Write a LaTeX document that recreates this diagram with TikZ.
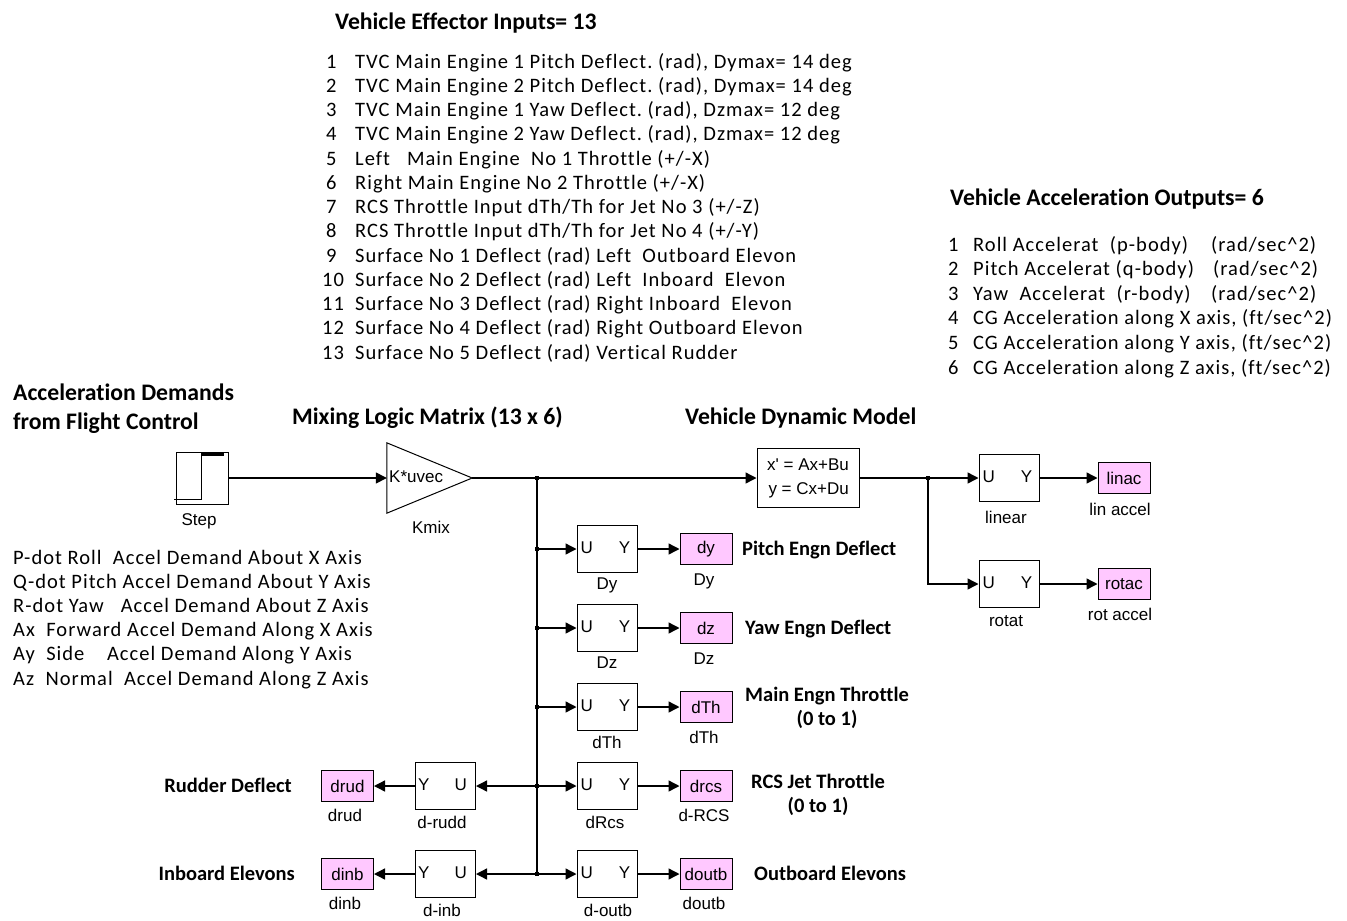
\documentclass[tikz,border=0pt]{standalone}
\usepackage{fontspec}
\setmainfont{Carlito}[Ligatures={TeX,NoCommon}]
\newfontfamily\lstfont{Carlito}[LetterSpace=5,Ligatures={TeX,NoCommon}]
\newfontfamily\arialfam{Liberation Sans}
\usetikzlibrary{arrows.meta,calc}
\definecolor{pinkc}{RGB}{255,200,255}
\frenchspacing
\begin{document}
\begin{tikzpicture}[x=1pt,y=-1pt,
 hdg/.style={font=\bfseries\fontsize{23.7}{28}\selectfont, anchor=base west, inner sep=0},
 lst/.style={font=\lstfont\fontsize{20.5}{24}\selectfont, anchor=base west, inner sep=0},
 btxt/.style={font=\bfseries\fontsize{20.5}{24.5}\selectfont, inner sep=0},
 lbl/.style={font=\arialfam\fontsize{17}{20}\selectfont, inner sep=0, anchor=base},
 blk/.style={draw, line width=1pt, minimum width=60pt, minimum height=47pt, inner sep=0},
 pbox/.style={draw, line width=1pt, fill=pinkc, minimum width=52pt, minimum height=31pt, inner sep=0, font=\arialfam\fontsize{17}{20}\selectfont},
 wire/.style={line width=1.4pt, -{Triangle[length=11pt,width=11pt]}},
 wline/.style={line width=1.4pt},
 jdot/.style={fill=black},
]
\useasboundingbox (0,0) rectangle (1347,921);

% ---------- headings ----------
\node[hdg] (tin) at (335,29) {Vehicle Effector Inputs= 13};
\node[hdg] (tout) at (950,205) {Vehicle Acceleration Outputs= 6};
\node[hdg] (tacc1) at (13,400) {Acceleration Demands};
\node[hdg] (tacc2) at (13,429) {from Flight Control};
\node[hdg] (tmix) at (292,424) {Mixing Logic Matrix (13 x 6)};
\node[hdg] (tveh) at (685,424) {Vehicle Dynamic Model};

% ---------- effector input list ----------
\node[lst] (n1) at (326,68) {1};
\node[lst] (e1) at (355,68) {TVC Main Engine 1 Pitch Deflect. (rad), Dymax= 14 deg};
\node[lst] (n2) at (326,92.25) {2};
\node[lst] (e2) at (355,92.25) {TVC Main Engine 2 Pitch Deflect. (rad), Dymax= 14 deg};
\node[lst] (n3) at (326,116.5) {3};
\node[lst] (e3) at (355,116.5) {TVC Main Engine 1 Yaw Deflect. (rad), Dzmax= 12 deg};
\node[lst] (n4) at (326,140.75) {4};
\node[lst] (e4) at (355,140.75) {TVC Main Engine 2 Yaw Deflect. (rad), Dzmax= 12 deg};
\node[lst] (n5) at (326,165) {5};
\node[lst] (e5) at (355,165) {Left\ \ \ Main Engine\ \ No 1 Throttle (+/-X)};
\node[lst] (n6) at (326,189.25) {6};
\node[lst] (e6) at (355,189.25) {Right Main Engine No 2 Throttle (+/-X)};
\node[lst] (n7) at (326,213.5) {7};
\node[lst] (e7) at (355,213.5) {RCS Throttle Input dTh/Th for Jet No 3 (+/-Z)};
\node[lst] (n8) at (326,237.75) {8};
\node[lst] (e8) at (355,237.75) {RCS Throttle Input dTh/Th for Jet No 4 (+/-Y)};
\node[lst] (n9) at (326,262) {9};
\node[lst] (e9) at (355,262) {Surface No 1 Deflect (rad) Left\ \ Outboard Elevon};
\node[lst] (n10) at (322,286.25) {10};
\node[lst] (e10) at (355,286.25) {Surface No 2 Deflect (rad) Left\ \ Inboard\ \ Elevon};
\node[lst] (n11) at (322,310.5) {11};
\node[lst] (e11) at (355,310.5) {Surface No 3 Deflect (rad) Right Inboard\ \ Elevon};
\node[lst] (n12) at (322,334.75) {12};
\node[lst] (e12) at (355,334.75) {Surface No 4 Deflect (rad) Right Outboard Elevon};
\node[lst] (n13) at (322,359) {13};
\node[lst] (e13) at (355,359) {Surface No 5 Deflect (rad) Vertical Rudder};

% ---------- acceleration output list ----------
\node[lst] (m1) at (948,251) {1};
\node[lst] (o1) at (973,251) {\makebox[238pt][l]{Roll Accelerat\ \ (p-body)}(rad/sec\textasciicircum 2)};
\node[lst] (m2) at (948,275.6) {2};
\node[lst] (o2) at (973,275.6) {\makebox[240pt][l]{Pitch Accelerat (q-body)}(rad/sec\textasciicircum 2)};
\node[lst] (m3) at (948,300.2) {3};
\node[lst] (o3) at (973,300.2) {\makebox[238pt][l]{Yaw\ \ Accelerat\ \ (r-body)}(rad/sec\textasciicircum 2)};
\node[lst] (m4) at (948,324.8) {4};
\node[lst] (o4) at (973,324.8) {CG Acceleration along X axis, (ft/sec\textasciicircum 2)};
\node[lst] (m5) at (948,349.4) {5};
\node[lst] (o5) at (973,349.4) {CG Acceleration along Y axis, (ft/sec\textasciicircum 2)};
\node[lst] (m6) at (948,374) {6};
\node[lst] (o6) at (973,374) {CG Acceleration along Z axis, (ft/sec\textasciicircum 2)};

% ---------- demand list ----------
\node[lst] (d1) at (13,564) {P-dot Roll\ \ Accel Demand About X Axis};
\node[lst] (d2) at (13,588.2) {Q-dot Pitch Accel Demand About Y Axis};
\node[lst] (d3) at (13,612.4) {R-dot Yaw\ \ \ Accel Demand About Z Axis};
\node[lst] (d4) at (13,636.6) {Ax\ \ Forward Accel Demand Along X Axis};
\node[lst] (d5) at (13,660.8) {Ay\ \ Side\ \ \ \ Accel Demand Along Y Axis};
\node[lst] (d6) at (13,685) {Az\ \ Normal\ \ Accel Demand Along Z Axis};

% ---------- step ----------
\node[draw, line width=1pt, minimum size=52pt, inner sep=0] (step) at (202,478) {};
\draw[line width=1pt] (174,499) -- (201,499) -- (201,454);
\draw[line width=2.5pt] (201,454.5) -- (224,454.5);
\node[lbl] (steplbl) at (199,525) {Step};

% ---------- gain ----------
\node[minimum width=85pt, minimum height=70pt, inner sep=0] (kmix) at (429.5,478) {};
\draw[line width=1pt] (kmix.north west) -- (kmix.east) -- (kmix.south west) -- cycle;
\node[lbl, anchor=west] (kmixtxt) at (389,477) {K*uvec};
\node[lbl] (kmixlbl) at (431,533) {Kmix};

% ---------- state space ----------
\node[draw, line width=1pt, minimum width=102pt, minimum height=59pt, inner sep=0,
      font=\arialfam\fontsize{17}{24}\selectfont, align=right] (ss) at (808,478)
      {x\textquotesingle{} = Ax+Bu\\y = Cx+Du};

% ---------- output selectors ----------
\node[blk] (linear) at (1009,478) {};
\node[blk] (rotat) at (1009,584) {};
\node[pbox] (linac) at (1124,478) {linac};
\node[pbox] (rotac) at (1124,584) {rotac};
\node[lbl] (linearlbl) at (1006,523) {linear};
\node[lbl] (rotatlbl) at (1006,626) {rotat};
\node[lbl] (linaclbl) at (1120,515) {lin accel};
\node[lbl] (rotaclbl) at (1120,620) {rot accel};

% ---------- effector selectors ----------
\node[blk] (dysel) at (607,549) {};
\node[blk] (dzsel) at (607,628) {};
\node[blk] (dthsel) at (607,707) {};
\node[blk] (rcssel) at (607,786) {};
\node[blk] (outsel) at (607,874) {};
\node[blk] (ruddsel) at (445.5,786) {};
\node[blk] (inbsel) at (445.5,874) {};

\node[pbox] (dy) at (706,549) {dy};
\node[pbox] (dz) at (706,628) {dz};
\node[pbox] (dth) at (706,707) {dTh};
\node[pbox] (drcs) at (706,786) {drcs};
\node[pbox] (doutb) at (706,874) {doutb};
\node[pbox] (drud) at (347.5,786) {drud};
\node[pbox] (dinb) at (347.5,874) {dinb};

\foreach \b in {dysel,dzsel,dthsel,rcssel,outsel,linear,rotat}{
  \node[lbl, anchor=west] (\b-U) at ($(\b.west)+(4,-1)$) {U};
  \node[lbl, anchor=east] (\b-Y) at ($(\b.east)+(-7,-1)$) {Y};
}
\foreach \b in {ruddsel,inbsel}{
  \node[lbl, anchor=west] (\b-Y) at ($(\b.west)+(3,-1)$) {Y};
  \node[lbl, anchor=east] (\b-U) at ($(\b.east)+(-9,-1)$) {U};
}

\node[lbl] (dysellbl) at (607,589) {Dy};
\node[lbl] (dzsellbl) at (607,668) {Dz};
\node[lbl] (dthsellbl) at (607,748) {dTh};
\node[lbl] (rcssellbl) at (605,828) {dRcs};
\node[lbl] (outsellbl) at (608,916) {d-outb};
\node[lbl] (ruddsellbl) at (442,828) {d-rudd};
\node[lbl] (inbsellbl) at (442,916) {d-inb};
\node[lbl] (dylbl) at (704,585) {Dy};
\node[lbl] (dzlbl) at (704,664) {Dz};
\node[lbl] (dthlbl) at (704,743) {dTh};
\node[lbl] (drcslbl) at (704,821) {d-RCS};
\node[lbl] (doutblbl) at (704,909) {doutb};
\node[lbl] (drudlbl) at (345,821) {drud};
\node[lbl] (dinblbl) at (345,909) {dinb};

% ---------- bold side labels ----------
\node[btxt, anchor=base west] (lpitch) at (742,555) {Pitch Engn Deflect};
\node[btxt, anchor=base west] (lyaw) at (745,634) {Yaw Engn Deflect};
\node[btxt, anchor=base] (lmain1) at (827,701) {Main Engn Throttle};
\node[btxt, anchor=base] (lmain2) at (827,725) {(0 to 1)};
\node[btxt, anchor=base] (lrcs1) at (818,788) {RCS Jet Throttle};
\node[btxt, anchor=base] (lrcs2) at (818,812) {(0 to 1)};
\node[btxt, anchor=base west] (lout) at (754,880) {Outboard Elevons};
\node[btxt, anchor=base east] (lrud) at (292,792) {Rudder Deflect};
\node[btxt, anchor=base east] (linb) at (295,880) {Inboard Elevons};

% ---------- connectors ----------
\coordinate (j0) at (537,478);
\coordinate (j1) at (928,478);
\coordinate (jdy) at (537,549);
\coordinate (jdz) at (537,628);
\coordinate (jdth) at (537,707);
\coordinate (jrcs) at (537,786);
\coordinate (jout) at (537,874);

\draw[wire] (step.east) -- (kmix.west);
\draw[wire] (kmix.east) -- (ss.west);
\draw[wline] (j0) -- (jout);
\draw[wire] (jdy) -- (dysel.west);
\draw[wire] (jdz) -- (dzsel.west);
\draw[wire] (jdth) -- (dthsel.west);
\draw[wire] (jrcs) -- (rcssel.west);
\draw[wire] (jout) -- (outsel.west);
\draw[wire] (jrcs) -- (ruddsel.east);
\draw[wire] (jout) -- (inbsel.east);
\draw[wire] (dysel.east) -- (dy.west);
\draw[wire] (dzsel.east) -- (dz.west);
\draw[wire] (dthsel.east) -- (dth.west);
\draw[wire] (rcssel.east) -- (drcs.west);
\draw[wire] (outsel.east) -- (doutb.west);
\draw[wire] (ruddsel.west) -- (drud.east);
\draw[wire] (inbsel.west) -- (dinb.east);
\draw[wire] (ss.east) -- (linear.west);
\draw[wire] (j1) |- (rotat.west);
\draw[wire] (linear.east) -- (linac.west);
\draw[wire] (rotat.east) -- (rotac.west);
\foreach \c in {j0,j1,jdy,jdz,jdth,jrcs,jout}{\fill[jdot] ($(\c)+(-2,-2)$) rectangle ($(\c)+(2,2)$);}
\end{tikzpicture}
\end{document}
